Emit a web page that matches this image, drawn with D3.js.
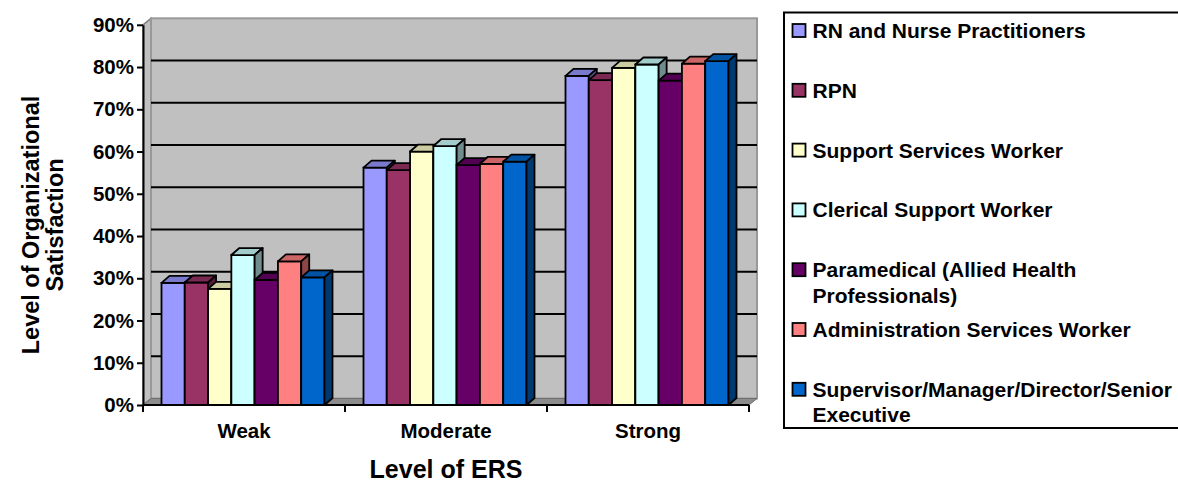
<!DOCTYPE html>
<html>
<head>
<meta charset="utf-8">
<script src="https://cdn.jsdelivr.net/npm/d3@7"></script>
<style>
  html, body { margin: 0; padding: 0; background: #ffffff; }
  svg { display: block; font-family: "Liberation Sans", Arial, sans-serif; font-weight: bold; }
</style>
</head>
<body>
<svg id="chart" width="1178" height="483"></svg>
<script>
// Level of organizational satisfaction by level of ERS and staff group
const categories = ["Weak", "Moderate", "Strong"];
const seriesNames = [
  "RN and Nurse Practitioners",
  "RPN",
  "Support Services Worker",
  "Clerical Support Worker",
  "Paramedical (Allied Health Professionals)",
  "Administration Services Worker",
  "Supervisor/Manager/Director/Senior Executive"
];
const seriesColors = ["#9999FF", "#993366", "#FFFFCC", "#CCFFFF", "#660066", "#FF8080", "#0066CC"];
const weakValues     = [0.289, 0.290, 0.275, 0.355, 0.296, 0.340, 0.302];
const moderateValues = [0.562, 0.556, 0.600, 0.613, 0.568, 0.571, 0.576];
const strongValues   = [0.779, 0.769, 0.798, 0.806, 0.768, 0.808, 0.814];
const yTicks = [0, 0.1, 0.2, 0.3, 0.4, 0.5, 0.6, 0.7, 0.8, 0.9];
const xTitle = "Level of ERS";
const yTitleLines = ["Level of Organizational", "Satisfaction"];

const valuesByCategory = [weakValues, moderateValues, strongValues];

const svg = d3.select("#chart");

// plot frame
const plotLeft = 143, plotRight = 749, plotBottom = 405, plotTop = 24.8;
const wallDx = 8, wallDy = 6.5;   // depth of the back wall
const barDx = 8, barDy = 7;       // depth of each column

const x = d3.scaleBand().domain(categories).range([plotLeft, plotRight]).paddingInner(0).paddingOuter(0);
const inner = d3.scaleBand().domain(seriesNames).range([18.5, 181.5]).padding(0);
const y = d3.scaleLinear().domain([0, 0.9]).range([plotBottom, plotTop]);

const line = d3.line();

// side wall
svg.append("path")
  .attr("d", line([[plotLeft, plotBottom], [plotLeft + wallDx, plotBottom - wallDy], [plotLeft + wallDx, y(0.9) - wallDy], [plotLeft, y(0.9)]]) + "Z")
  .attr("fill", "#C0C0C0").attr("stroke", "#808080").attr("stroke-width", 1.5);

// back wall
svg.append("rect")
  .attr("x", plotLeft + wallDx).attr("y", y(0.9) - wallDy)
  .attr("width", plotRight - plotLeft).attr("height", y(0) - y(0.9))
  .attr("fill", "#C0C0C0").attr("stroke", "#999999").attr("stroke-width", 2);

// floor
svg.append("path")
  .attr("d", line([[plotLeft, plotBottom], [plotRight, plotBottom], [plotRight + wallDx, plotBottom - wallDy], [plotLeft + wallDx, plotBottom - wallDy]]) + "Z")
  .attr("fill", "#8C8C8C").attr("stroke", "#707070").attr("stroke-width", 1);

// gridlines on the back wall
svg.append("g").selectAll("line")
  .data(yTicks.filter(t => t > 0 && t < 0.9))
  .join("line")
  .attr("x1", plotLeft + wallDx).attr("x2", plotRight + wallDx)
  .attr("y1", d => y(d) - wallDy).attr("y2", d => y(d) - wallDy)
  .attr("stroke", "#000").attr("stroke-width", 2);

// columns
const shade = (c, k) => { const r = d3.rgb(c); return d3.rgb(r.r * k, r.g * k, r.b * k).formatHex(); };

const bars = [];
categories.forEach((cat, ci) => {
  seriesNames.forEach((s, si) => {
    bars.push({ cat, s, si, v: valuesByCategory[ci][si] });
  });
});

const barG = svg.append("g");
bars.forEach(b => {
  const x0 = x(b.cat) + inner(b.s);
  const w = inner.bandwidth();
  const yt = y(b.v), yb = y(0);
  const g = barG.append("g");
  g.append("rect")
    .attr("x", x0).attr("y", yt).attr("width", w).attr("height", yb - yt)
    .attr("fill", seriesColors[b.si]).attr("stroke", "#000").attr("stroke-width", 1.8);
  g.append("path")
    .attr("d", line([[x0, yt], [x0 + barDx, yt - barDy], [x0 + w + barDx, yt - barDy], [x0 + w, yt]]) + "Z")
    .attr("fill", shade(seriesColors[b.si], 0.8)).attr("stroke", "#000").attr("stroke-width", 1.8)
    .attr("stroke-linejoin", "round");
  g.append("path")
    .attr("d", line([[x0 + w, yt], [x0 + w + barDx, yt - barDy], [x0 + w + barDx, yb - barDy], [x0 + w, yb]]) + "Z")
    .attr("fill", shade(seriesColors[b.si], 0.55)).attr("stroke", "#000").attr("stroke-width", 1.8)
    .attr("stroke-linejoin", "round");
});

// value axis
const yAxis = svg.append("g")
  .attr("transform", `translate(${plotLeft},0)`)
  .call(d3.axisLeft(y).tickValues(yTicks).tickFormat(d3.format(".0%")).tickSize(6).tickSizeOuter(0).tickPadding(3));
yAxis.select(".domain").attr("stroke", "#000").attr("stroke-width", 2);
yAxis.selectAll(".tick line").attr("stroke", "#000").attr("stroke-width", 2);
yAxis.selectAll(".tick text")
  .attr("font-size", 20.5).attr("font-weight", "bold").attr("fill", "#000")
  .attr("font-family", '"Liberation Sans", Arial, sans-serif');

// category axis
svg.append("line")
  .attr("x1", plotLeft).attr("x2", plotRight).attr("y1", plotBottom).attr("y2", plotBottom)
  .attr("stroke", "#000").attr("stroke-width", 2);
const boundaries = [plotLeft].concat(categories.map(c => x(c) + x.bandwidth()));
svg.append("g").selectAll("line")
  .data(boundaries)
  .join("line")
  .attr("x1", d => d).attr("x2", d => d)
  .attr("y1", plotBottom).attr("y2", plotBottom + 7)
  .attr("stroke", "#000").attr("stroke-width", 2);
svg.append("g").selectAll("text")
  .data(categories)
  .join("text")
  .attr("x", d => x(d) + x.bandwidth() / 2)
  .attr("y", 431)
  .attr("dy", "0.36em")
  .attr("text-anchor", "middle")
  .attr("font-size", 20.5)
  .text(d => d);

// axis titles
svg.append("text")
  .attr("x", 446).attr("y", 477.5)
  .attr("text-anchor", "middle").attr("font-size", 25)
  .text(xTitle);

const yTitle = svg.append("g").attr("transform", "translate(43,225) rotate(-90)");
yTitleLines.forEach((t, i) => {
  yTitle.append("text")
    .attr("x", 0).attr("y", (i - 0.5) * 24)
    .attr("dy", "0.36em")
    .attr("text-anchor", "middle").attr("font-size", 23.5)
    .text(t);
});

// legend
svg.append("rect")
  .attr("x", 784).attr("y", 12.5).attr("width", 420).attr("height", 415.5)
  .attr("fill", "#fff").attr("stroke", "#000").attr("stroke-width", 2);

const legend = svg.append("g");
const maxLegendWidth = 380;
seriesNames.forEach((name, i) => {
  const cy = 30.5 + i * 59.8;
  legend.append("rect")
    .attr("x", 792.5).attr("y", cy - 6.5).attr("width", 13).attr("height", 13)
    .attr("fill", seriesColors[i]).attr("stroke", "#000").attr("stroke-width", 1.8);
  const text = legend.append("text")
    .attr("x", 812.5).attr("y", cy).attr("font-size", 21);
  // wrap the label onto extra lines when it is too wide
  const words = name.split(" ");
  let lineWords = [];
  let tspan = text.append("tspan").attr("x", 812.5).attr("dy", "0.36em");
  words.forEach(word => {
    lineWords.push(word);
    tspan.text(lineWords.join(" "));
    if (tspan.node().getComputedTextLength() > maxLegendWidth && lineWords.length > 1) {
      lineWords.pop();
      tspan.text(lineWords.join(" "));
      lineWords = [word];
      tspan = text.append("tspan").attr("x", 812.5).attr("dy", "25.5px").text(word);
    }
  });
});
</script>
</body>
</html>
